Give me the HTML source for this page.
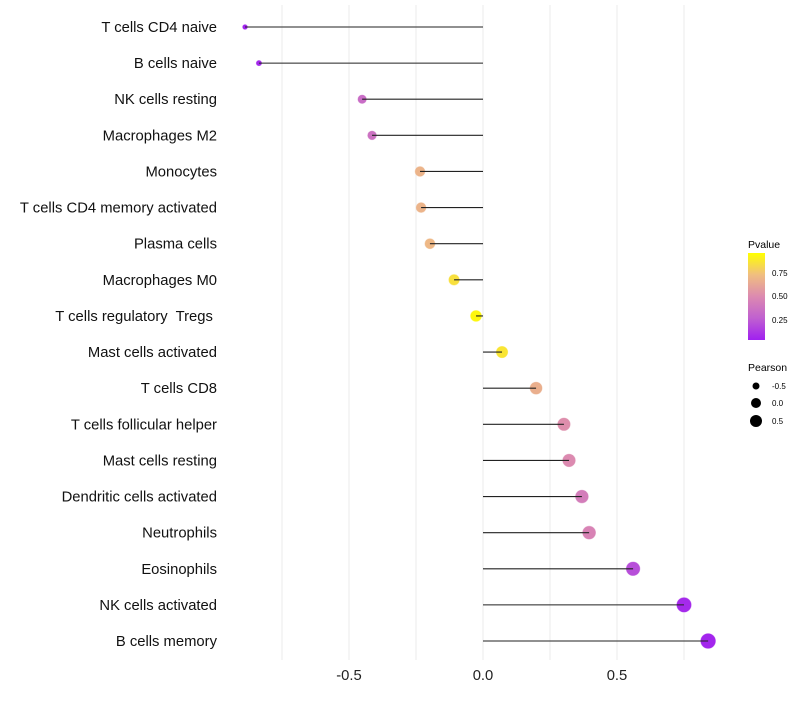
<!DOCTYPE html>
<html><head><meta charset="utf-8">
<style>body{margin:0;background:#fff;font-family:"Liberation Sans",sans-serif}</style></head>
<body>
<svg id="chart" width="800" height="700" xmlns="http://www.w3.org/2000/svg" font-family="Liberation Sans, sans-serif">
<defs><linearGradient id="pg" x1="0" y1="1" x2="0" y2="0">
<stop offset="0" stop-color="#a020f0"/><stop offset="0.25" stop-color="#c060d0"/><stop offset="0.5" stop-color="#dc8ab0"/><stop offset="0.75" stop-color="#f0be80"/><stop offset="1" stop-color="#ffff00"/></linearGradient></defs>
<g id="grid"></g><g id="marks"></g><g id="labels"></g>
<g>
<text x="748" y="248" font-size="10.5">Pvalue</text>
<rect x="748" y="253" width="17" height="87" fill="url(#pg)"/>
<text x="772" y="276" font-size="8">0.75</text>
<text x="772" y="299" font-size="8">0.50</text>
<text x="772" y="323" font-size="8">0.25</text>
</g>
<g>
<text x="748" y="371" font-size="10.5">Pearson</text>
<circle cx="756" cy="386" r="3.5" fill="#000"/><text x="772" y="389" font-size="8">-0.5</text>
<circle cx="756" cy="403" r="5" fill="#000"/><text x="772" y="406" font-size="8">0.0</text>
<circle cx="756" cy="421" r="6" fill="#000"/><text x="772" y="424" font-size="8">0.5</text>
</g>
</svg>
<script>
const categories=["T cells CD4 naive","B cells naive","NK cells resting","Macrophages M2","Monocytes","T cells CD4 memory activated","Plasma cells","Macrophages M0","T cells regulatory  Tregs ","Mast cells activated","T cells CD8","T cells follicular helper","Mast cells resting","Dendritic cells activated","Neutrophils","Eosinophils","NK cells activated","B cells memory"];
const pearson=[-0.888,-0.836,-0.451,-0.414,-0.235,-0.231,-0.198,-0.108,-0.026,0.071,0.198,0.302,0.321,0.369,0.396,0.560,0.750,0.840];
const pvalue=[0.01,0.03,0.33,0.36,0.70,0.70,0.72,0.88,0.97,0.90,0.68,0.52,0.50,0.42,0.46,0.18,0.04,0.02];
const xTicks=[-0.5,0.0,0.5];
const xTickLabels=["-0.5","0.0","0.5"];
const minorTicks=[-0.75,-0.25,0.25,0.75];
const NS="http://www.w3.org/2000/svg";
const X=v=>483+v*268;
const Y=i=>27+i*(641-27)/(categories.length-1);
const R=v=>Math.sqrt(Math.max(3,30.5+28*v));
function lerp(a,b,t){return a.map((c,k)=>Math.round(c+(b[k]-c)*t));}
function col(p){const s=[[0,[160,32,240]],[0.25,[192,96,208]],[0.5,[220,138,176]],[0.75,[240,190,128]],[1,[255,255,0]]];
for(let k=1;k<s.length;k++){if(p<=s[k][0]){const t=(p-s[k-1][0])/(s[k][0]-s[k-1][0]);return"rgb("+lerp(s[k-1][1],s[k][1],t).join(",")+")";}}return"rgb(255,255,0)";}
function mk(tag,at,parent){const e=document.createElementNS(NS,tag);for(const k in at)e.setAttribute(k,at[k]);parent.appendChild(e);return e;}
const grid=document.getElementById('grid'),marks=document.getElementById('marks'),labels=document.getElementById('labels');
minorTicks.concat(xTicks).forEach(t=>{const l=mk('line',{x1:X(t),x2:X(t),y1:5,y2:660,stroke:'#ebebeb','stroke-width':1},grid);

});
xTicks.forEach((t,i)=>{const tx=mk('text',{x:X(t),y:680,'font-size':14.8,'text-anchor':'middle',fill:'#222'},labels);tx.textContent=xTickLabels[i];

});
categories.forEach((c,i)=>{
const tx=mk('text',{x:217,y:Y(i)+5,'font-size':14.8,'text-anchor':'end',fill:'#111'},labels);tx.textContent=c;
tx.setAttribute('style','white-space:pre');


const pt=mk('circle',{cx:X(pearson[i]),cy:Y(i),r:R(pearson[i]),fill:col(pvalue[i]),stroke:col(pvalue[i]),'stroke-opacity':0.5,'stroke-width':0.8},marks);


const ln=mk('line',{x1:X(0),x2:X(pearson[i]),y1:Y(i),y2:Y(i),stroke:'#222','stroke-width':1.1},marks);


});
</script>
</body></html>
